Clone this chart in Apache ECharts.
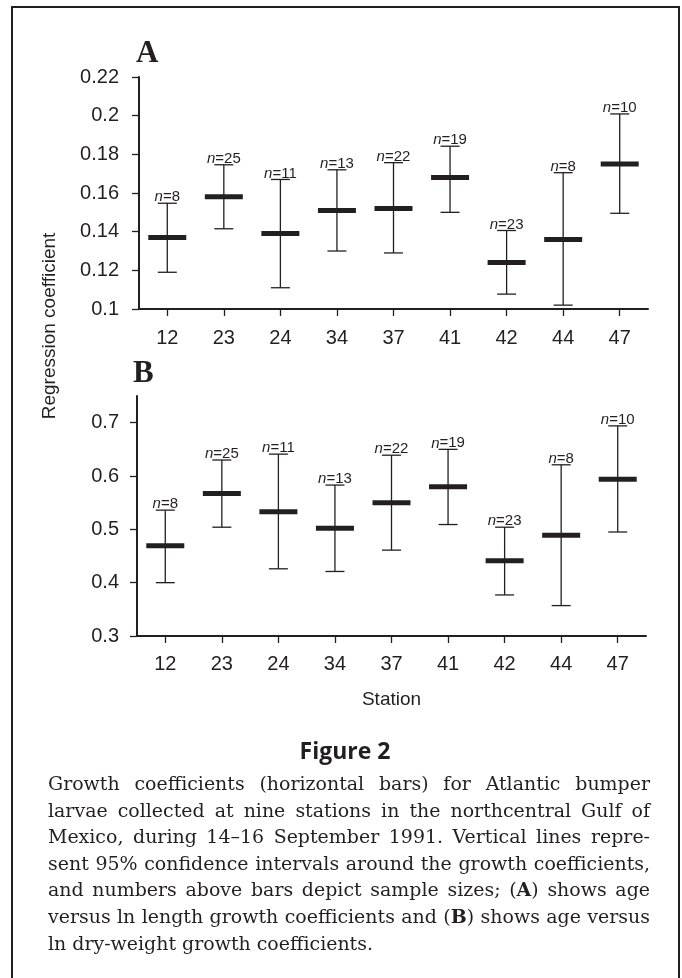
<!DOCTYPE html>
<html><head><meta charset="utf-8">
<script src="https://cdn.jsdelivr.net/npm/echarts@6/dist/echarts.min.js"></script>
<style>html,body{margin:0;padding:0;background:#fff}#c{width:682px;height:978px}</style>
</head><body><div id="c"></div>
<script>
// ---- data ----
const stations = ['12','23','24','34','37','41','42','44','47'];
const sampleSizes = [8,25,11,13,22,19,23,8,10];
// Panel A: age vs ln length
const coefA  = [0.137,0.158,0.139,0.151,0.152,0.168,0.124,0.136,0.175];
const lowerA = [0.119,0.1415,0.111,0.130,0.129,0.150,0.1077,0.102,0.1495];
const upperA = [0.1547,0.1746,0.167,0.172,0.1757,0.1842,0.1406,0.1705,0.2009];
// Panel B: age vs ln dry weight
const coefB  = [0.469,0.567,0.533,0.502,0.550,0.580,0.441,0.489,0.594];
const lowerB = [0.400,0.504,0.426,0.421,0.461,0.509,0.377,0.357,0.495];
const upperB = [0.536,0.630,0.641,0.583,0.639,0.650,0.504,0.621,0.694];
// tick labels
const yTicksA = [0.1,0.12,0.14,0.16,0.18,0.2,0.22];
const yTicksB = [0.3,0.4,0.5,0.6,0.7];
const captionLines = [
  'Growth coefficients (horizontal bars) for Atlantic bumper',
  'larvae collected at nine stations in the northcentral Gulf of',
  'Mexico, during 14\u201316 September 1991. Vertical lines repre-',
  'sent 95% confidence intervals around the growth coefficients,',
  'and numbers above bars depict sample sizes; (*A*) shows age',
  'versus ln length growth coefficients and (*B*) shows age versus',
  'ln dry-weight growth coefficients.'
];

const ink = '#231f20';
const sans = '"Liberation Sans", Arial, sans-serif';
const serif = '"DejaVu Serif", serif';

function buildData(mean, lo, hi) {
  return stations.map((s, i) => [s, mean[i], lo[i], hi[i], sampleSizes[i]]);
}

function renderItem(params, api) {
  const c = api.value(0);
  const pm = api.coord([c, api.value(1)]);
  const pl = api.coord([c, api.value(2)]);
  const ph = api.coord([c, api.value(3)]);
  const x = pm[0];
  const capHalf = 9.5, barHalf = 19;
  const n = api.value(4);
  return {
    type: 'group',
    children: [
      {type: 'line', shape: {x1: x, y1: pl[1], x2: x, y2: ph[1]}, style: {stroke: ink, lineWidth: 1.3}},
      {type: 'line', shape: {x1: x - capHalf, y1: ph[1], x2: x + capHalf, y2: ph[1]}, style: {stroke: ink, lineWidth: 1.3}},
      {type: 'line', shape: {x1: x - capHalf, y1: pl[1], x2: x + capHalf, y2: pl[1]}, style: {stroke: ink, lineWidth: 1.3}},
      {type: 'rect', shape: {x: x - barHalf, y: pm[1] - 2.5, width: barHalf * 2, height: 5}, style: {fill: ink}},
      {type: 'text', style: {
        x: x, y: ph[1] + 1.5, align: 'center', verticalAlign: 'bottom',
        text: '{i|n}{r|=' + n + '}',
        fill: ink, fontSize: 15, fontFamily: sans,
        rich: {
          i: {fontStyle: 'italic', fontSize: 15, fontFamily: sans, fill: ink},
          r: {fontSize: 15, fontFamily: sans, fill: ink}
        }
      }}
    ]
  };
}

// ---- caption layout (justified) ----
const capLeft = 48, capRight = 650, capY0 = 785, capPitch = 26.6;
const mctx = document.createElement('canvas').getContext('2d');
function segs(word) { return word.split('*').map((t, k) => ({t: t, b: k % 2 === 1})).filter(s => s.t); }
function segW(s, size) { mctx.font = (s.b ? 'bold ' : '') + size + 'px ' + serif; return mctx.measureText(s.t).width; }
function wordW(w, size) { return segs(w).reduce((a, s) => a + segW(s, size), 0); }
function lineNat(line, size) {
  const ws = line.split(' ');
  return ws.reduce((a, w) => a + wordW(w, size), 0) + (ws.length - 1) * segW({t: ' ', b: false}, size);
}
const maxNat = Math.max.apply(null, captionLines.slice(0, -1).map(l => lineNat(l, 20)));
const capSize = Math.min(21, 20 * (capRight - capLeft) / maxNat * 0.995);

const captionEls = [];
captionLines.forEach((line, li) => {
  const ws = line.split(' ');
  const widths = ws.map(w => wordW(w, capSize));
  const total = widths.reduce((a, b) => a + b, 0);
  const last = li === captionLines.length - 1;
  const gap = last ? segW({t: ' ', b: false}, capSize) : (capRight - capLeft - total) / (ws.length - 1);
  let x = capLeft;
  const y = capY0 + li * capPitch;
  ws.forEach((w, wi) => {
    let sx = x;
    segs(w).forEach(s => {
      captionEls.push({
        type: 'text', x: sx, y: y,
        style: {text: s.t, fill: ink, fontSize: capSize, fontFamily: serif, fontWeight: s.b ? 'bold' : 'normal',
                align: 'left', verticalAlign: 'middle'}
      });
      sx += segW(s, capSize);
    });
    x += widths[wi] + gap;
  });
});

const chart = echarts.init(document.getElementById('c'), null, {renderer: 'canvas'});

const axisLineStyle = {show: true, lineStyle: {color: ink, width: 2}};
const tickStyle = {show: true, length: 7, lineStyle: {color: ink, width: 1.3}};
const labelStyle = {color: ink, fontSize: 20, fontFamily: sans};

const option = {
  animation: false,
  backgroundColor: '#fff',
  grid: [
    {left: 139, top: 77, width: 509, height: 232},
    {left: 137, top: 396, width: 509, height: 240}
  ],
  xAxis: [
    {gridIndex: 0, type: 'category', data: stations, boundaryGap: true,
     axisLine: axisLineStyle, axisTick: Object.assign({alignWithLabel: true}, tickStyle),
     axisLabel: Object.assign({margin: 19}, labelStyle), splitLine: {show: false}},
    {gridIndex: 1, type: 'category', data: stations, boundaryGap: true,
     axisLine: axisLineStyle, axisTick: Object.assign({alignWithLabel: true}, tickStyle),
     axisLabel: Object.assign({margin: 18}, labelStyle), splitLine: {show: false},
     name: 'Station', nameLocation: 'middle', nameGap: 54,
     nameTextStyle: {color: ink, fontSize: 19, fontFamily: sans}}
  ],
  yAxis: [
    {gridIndex: 0, type: 'value', min: 0.1, max: 0.22, interval: 0.02,
     axisLine: axisLineStyle, axisTick: Object.assign({customValues: yTicksA}, tickStyle),
     axisLabel: Object.assign({margin: 20, customValues: yTicksA}, labelStyle), splitLine: {show: false}},
    {gridIndex: 1, type: 'value', min: 0.3, max: 0.75, interval: 0.1,
     axisLine: axisLineStyle, axisTick: Object.assign({customValues: yTicksB}, tickStyle),
     axisLabel: Object.assign({margin: 18, customValues: yTicksB,
       formatter: v => (v > 0.71 ? '' : String(+v.toFixed(2)))}, labelStyle),
     splitLine: {show: false}}
  ],
  series: [
    {type: 'custom', xAxisIndex: 0, yAxisIndex: 0, data: buildData(coefA, lowerA, upperA),
     encode: {x: 0, y: [1, 2, 3]}, renderItem: renderItem, clip: false},
    {type: 'custom', xAxisIndex: 1, yAxisIndex: 1, data: buildData(coefB, lowerB, upperB),
     encode: {x: 0, y: [1, 2, 3]}, renderItem: renderItem, clip: false}
  ],
  graphic: [
    {type: 'rect', shape: {x: 12, y: 7, width: 667, height: 1000}, style: {fill: 'transparent', stroke: ink, lineWidth: 2}, silent: true},
    {type: 'text', x: 136, y: 54, style: {text: 'A', fontSize: 31, fontWeight: 'bold', fontFamily: '"Liberation Serif", "Times New Roman", serif', fill: ink, align: 'left', verticalAlign: 'middle'}},
    {type: 'text', x: 133, y: 374, style: {text: 'B', fontSize: 31, fontWeight: 'bold', fontFamily: '"Liberation Serif", "Times New Roman", serif', fill: ink, align: 'left', verticalAlign: 'middle'}},
    {type: 'text', x: 50, y: 326, rotation: Math.PI / 2, style: {text: 'Regression coefficient', fontSize: 19, fontFamily: sans, fill: ink, align: 'center', verticalAlign: 'middle'}},
    {type: 'text', x: 345, y: 752, style: {text: 'Figure 2', fontSize: 23, fontWeight: 'bold', fontFamily: '"Open Sans", "Noto Sans", sans-serif', fill: ink, align: 'center', verticalAlign: 'middle'}}
  ].concat(captionEls)
};
chart.setOption(option);
</script>
</body></html>
